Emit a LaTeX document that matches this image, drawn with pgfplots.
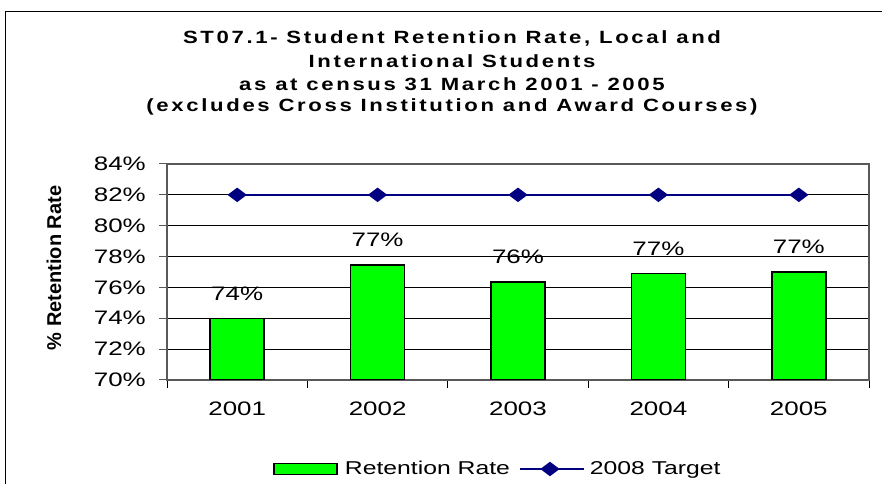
\documentclass[border=0pt]{standalone}
\usepackage{pgfplots}
\pgfplotsset{compat=1.18}
\usepackage{fontspec}
\setmainfont{Liberation Sans}
\newfontfamily\widefont[FakeStretch=1.33]{Liberation Sans}
\newfontfamily\titlefont[FakeStretch=1.25,LetterSpace=15]{Liberation Sans Bold}
\definecolor{xlgreen}{RGB}{0,255,0}
\definecolor{xlnavy}{RGB}{0,0,128}
\begin{document}
\begin{tikzpicture}[x=1pt,y=1pt]
\useasboundingbox (0,0) rectangle (882,484);
\draw[black, line width=1pt] (5,0) -- (5,472) -- (882,472);
\node[font=\titlefont\fontsize{17.7}{20}\selectfont, inner sep=0] at (452,446) {ST07.1- Student Retention Rate, Local and};
\node[font=\titlefont\fontsize{17.7}{20}\selectfont, inner sep=0] at (452,423) {International Students};
\node[font=\titlefont\fontsize{17.7}{20}\selectfont, inner sep=0] at (452,400) {as at census 31 March 2001 - 2005};
\node[font=\titlefont\fontsize{17.7}{20}\selectfont, inner sep=0] at (452,377) {(excludes Cross Institution and Award Courses)};
\node[rotate=90, font=\bfseries\fontsize{20}{22}\selectfont, inner sep=0] at (54,216) {\% Retention Rate};
\begin{axis}[
  at={(167pt,104pt)}, anchor=south west,
  scale only axis, width=702pt, height=216pt,
  xmin=-0.5, xmax=4.5, ymin=70, ymax=84,
  xtick={0,1,2,3,4},
  xticklabels={2001,2002,2003,2004,2005},
  minor xtick={-0.5,0.5,1.5,2.5,3.5,4.5},
  ytick={70,72,...,84},
  yticklabel={\pgfmathprintnumber{\tick}\%},
  /pgf/number format/assume math mode=true,
  tick pos=left,
  tick align=outside,
  major tick length=8pt,
  minor tick length=8pt,
  xtick style={draw=none},
  minor x tick style={draw=black, line width=0.8pt},
  ytick style={draw=gray!70!black, line width=1pt},
  ticklabel style={font=\widefont\fontsize{19.5}{21}\selectfont},
  yticklabel style={inner sep=0pt, xshift=-13pt},
  xticklabel style={inner sep=0pt, yshift=-14pt},
  ymajorgrids,
  grid style={black, line width=0.8pt},
  axis line style={gray!70!black, line width=1.5pt},
  legend style={at={(0.151,-0.412)}, anchor=west, draw=none, fill=none,
    font=\widefont\fontsize{18.6}{20}\selectfont, inner sep=0pt,
    nodes={inner sep=0pt},
    legend columns=2,
    /tikz/every even column/.append style={column sep=9pt}},
  nodes near coords={\pgfmathprintnumber[fixed,precision=0]{\pgfplotspointmeta}\%},
  every node near coord/.append style={font=\widefont\fontsize{19.5}{21}\selectfont, yshift=14pt},
]
\addplot[ybar, bar width=54pt, fill=xlgreen, draw=black, line width=1.5pt,
  legend image code/.code={\draw[fill=xlgreen,draw=black,line width=1.5pt] (0pt,-5.5pt) rectangle (63pt,5.5pt);
    \path[draw=none,fill=none] (0pt,0pt) -- (71pt,0pt);}]
  coordinates {(0,74.0) (1,77.45) (2,76.35) (3,76.9) (4,77.0)};
\addlegendentry{Retention Rate}
\addplot[xlnavy, line width=2pt, mark=diamond*, mark size=8pt, mark options={rotate=90, fill=xlnavy}, nodes near coords={},
  legend image code/.code={\draw[xlnavy,line width=2pt] (0pt,0pt) -- (64pt,0pt);
    \fill[xlnavy] (22pt,0pt) -- (30pt,6pt) -- (38pt,0pt) -- (30pt,-6pt) -- cycle;
    \path[draw=none,fill=none] (0pt,0pt) -- (70pt,0pt);}]
  coordinates {(0,82) (1,82) (2,82) (3,82) (4,82)};
\addlegendentry{2008 Target}
\end{axis}
\end{tikzpicture}
\end{document}
